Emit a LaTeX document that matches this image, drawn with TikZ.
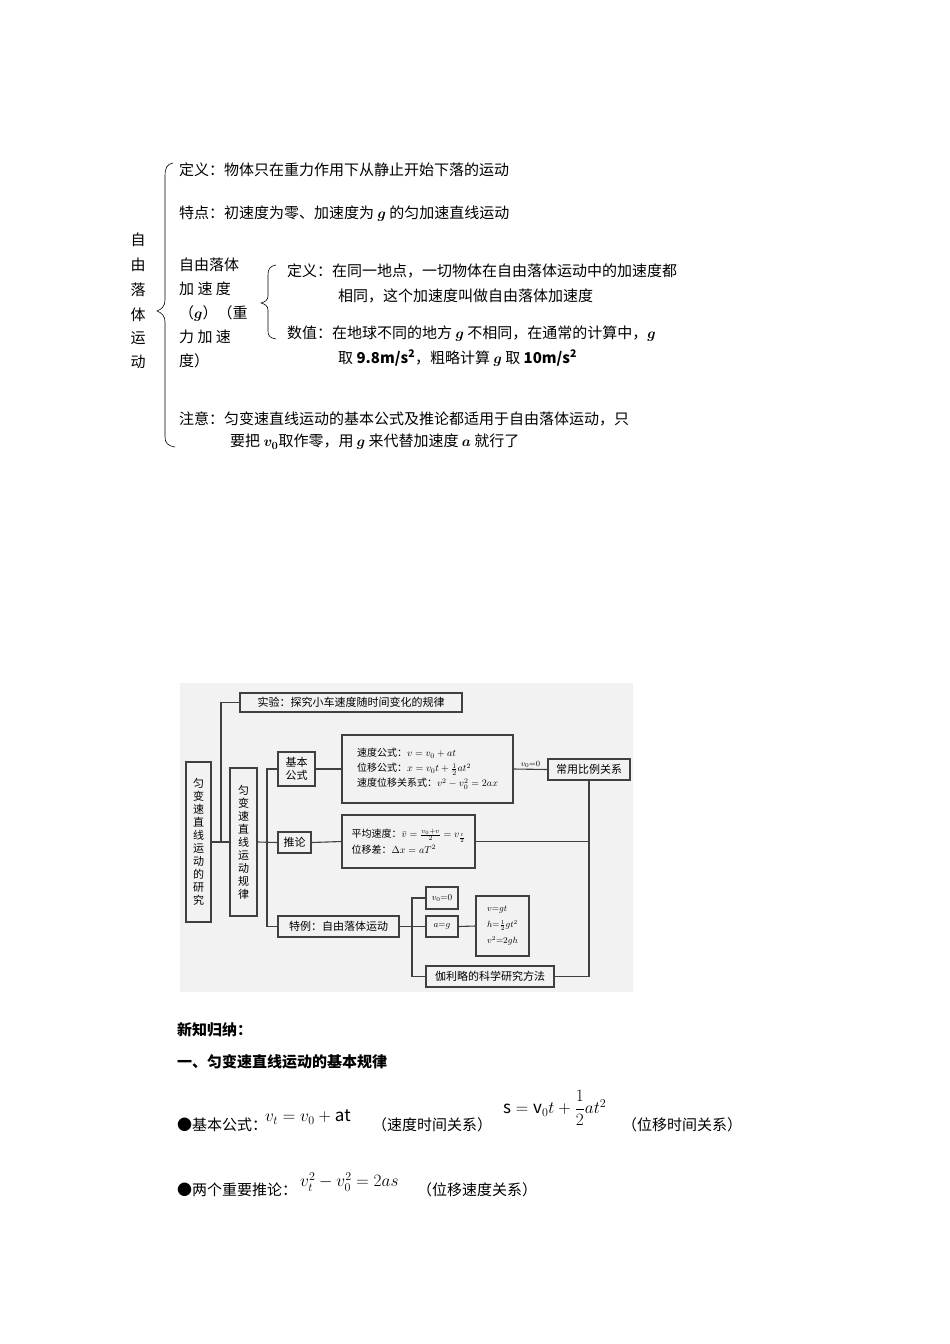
\documentclass[tikz,border=0pt]{standalone}
\usepackage{amsmath,bm}
\usepackage{fontspec}
\setmainfont{Noto Sans CJK SC}
\begin{document}
\begin{tikzpicture}[x=1pt,y=-1pt,
  tt/.style={anchor=west,inner sep=0pt,font=\fontsize{15}{18}\selectfont},
  bx/.style={draw=black!75,line width=1.1pt,inner sep=0pt,align=center,font=\fontsize{11}{13}\selectfont},
  ln/.style={draw=black!75,line width=1.1pt}]
\useasboundingbox (0,0) rectangle (950,1344);
% ---------- top section
\foreach \c/\y in {自/240,由/265,落/290,体/315,运/338,动/362}
  \node[tt,anchor=center] at (138,\y) {\c};
\draw[line width=0.6pt] (173,163) .. controls (167,164) and (165,168) .. (165,176) -- (165,300)
  .. controls (165,306) and (162,309) .. (157,311) .. controls (162,313) and (165,316) .. (165,322)
  -- (165,437) .. controls (165,443) and (168,446) .. (175,447);
\node[tt] (d1) at (179,170) {定义：物体只在重力作用下从静止开始下落的运动};
\node[tt] (d2) at (179,214) {特点：初速度为零、加速度为 $\bm{g}$ 的匀加速直线运动};
\node[tt,align=left,anchor=north west] (d3) at (179,258) {自由落体\\[6pt]加\ 速\ 度\\[6pt]（$\bm{g}$）（重\\[6pt]力\ 加\ 速\\[6pt]度）};
\draw[line width=0.6pt] (276,265) .. controls (270,266) and (268,269) .. (268,275) -- (268,296)
  .. controls (268,300) and (265,302) .. (261,303) .. controls (265,304) and (268,306) .. (268,310)
  -- (268,331) .. controls (268,336) and (270,338) .. (276,339);
\node[tt] (e1) at (287,271) {定义：在同一地点，一切物体在自由落体运动中的加速度都};
\node[tt] (e2) at (338,296) {相同，这个加速度叫做自由落体加速度};
\node[tt] (e3) at (287,334) {数值：在地球不同的地方 $\bm{g}$ 不相同，在通常的计算中，$\bm{g}$};
\node[tt] (e4) at (338,358) {取 \textbf{9.8m/s$^{\mathbf 2}$}，粗略计算 $\bm{g}$ 取 \textbf{10m/s$^{\mathbf 2}$}};
\node[tt] (n1) at (179,419) {注意：匀变速直线运动的基本公式及推论都适用于自由落体运动，只};
\node[tt] (n2) at (230,442) {要把 $\bm{v_0}$取作零，用 $\bm{g}$ 来代替加速度 $\bm{a}$ 就行了};
% ---------- diagram
\fill[black!5] (180,683) rectangle (633,992);
\node[bx,minimum width=25pt,minimum height=160pt,text width=14pt] (o) at (198.5,842) {匀\\变\\速\\直\\线\\运\\动\\的\\研\\究};
\node[bx,minimum width=222pt,minimum height=19pt] (ex) at (351,702.5) {实验：探究小车速度随时间变化的规律};
\node[bx,minimum width=27pt,minimum height=148pt,text width=14pt] (r) at (243.5,842) {匀\\变\\速\\直\\线\\运\\动\\规\\律};
\node[bx,minimum width=37pt,minimum height=34pt] (jb) at (296.5,769) {基本\\公式};
\node[bx,minimum width=33pt,minimum height=21pt] (tl) at (294.5,842.5) {推论};
\node[bx,minimum width=121pt,minimum height=21pt] (te) at (338.5,926.5) {特例：自由落体运动};
\node[bx,minimum width=171pt,minimum height=68pt,align=left,font=\fontsize{10}{15}\selectfont] (f1) at (427.5,769) {速度公式：$v=v_0+at$\\位移公式：$x=v_0t+\frac12at^2$\\速度位移关系式：$v^2-v_0^2=2ax$};
\node[bx,minimum width=133pt,minimum height=53pt,align=left,font=\fontsize{10}{14}\selectfont] (f2) at (408.5,841.5) {平均速度：$\bar v=\frac{v_0+v}{2}=v_{\frac t2}$\\[2pt]位移差：$\Delta x=aT^2$};
\node[bx,minimum width=82pt,minimum height=21pt] (cy) at (589,769.5) {常用比例关系};
\node[bx,minimum width=32pt,minimum height=22pt,font=\fontsize{9}{11}\selectfont] (v0) at (442,898) {$v_0{=}0$};
\node[bx,minimum width=32pt,minimum height=21pt,font=\fontsize{9}{11}\selectfont] (ag) at (442,926.5) {$a{=}g$};
\node[bx,minimum width=53pt,minimum height=60pt,align=left,font=\fontsize{9}{16}\selectfont] (f3) at (502.5,926) {$v{=}gt$\\$h{=}\frac12gt^2$\\$v^2{=}2gh$};
\node[bx,minimum width=128pt,minimum height=21pt] (gal) at (490,976.5) {伽利略的科学研究方法};
\coordinate (j1) at (221,842);
\coordinate (j2) at (267,842);
\coordinate (j3) at (412,926.5);
\draw[ln] (o.east) -- (r.west);
\draw[ln] (ex.west) -| (j1);
\draw[ln] (r.east) -- (tl.west);
\draw[ln] (jb.west) -| (te.west -| j2) -- (te.west);
\draw[ln] (jb.east) -- (f1.west);
\draw[ln] (tl.east) -- (f2.west);
\draw[ln] (f1.east) -- node[above,font=\fontsize{8}{9}\selectfont,inner sep=1pt] {$v_0{=}0$} (cy.west);
\draw[ln] (cy.south) |- (gal.east);
\draw[ln] (f2.east) -- (f2.east -| cy.south);
\draw[ln] (te.east) -- (ag.west);
\draw[ln] (v0.west) -| (j3) |- (gal.west);
\draw[ln] (ag.east) -- (f3.west);
% ---------- bottom text
\node[tt,font=\fontsize{15}{18}\selectfont\bfseries] (h1) at (177,1030) {新知归纳：};
\node[tt,font=\fontsize{15}{18}\selectfont\bfseries] (h2) at (177,1062) {一、匀变速直线运动的基本规律};
\node[tt] (b1) at (177,1125) {●基本公式：};
\node[tt,font=\fontsize{17}{20}\selectfont] (m1) at (265,1117) {$v_t=v_0+\mathrm{at}$};
\node[tt] (c1) at (372,1125) {（速度时间关系）};
\node[tt,font=\fontsize{17}{20}\selectfont] (m2) at (503,1108) {$\mathrm{s}=\mathrm{v}_0t+\dfrac12at^2$};
\node[tt] (c2) at (622,1125) {（位移时间关系）};
\node[tt] (b2) at (177,1190) {●两个重要推论：};
\node[tt,font=\fontsize{17}{20}\selectfont] (m3) at (300,1182) {$v_t^2-v_0^2=2as$};
\node[tt] (c3) at (417,1190) {（位移速度关系）};
\end{tikzpicture}
\end{document}
